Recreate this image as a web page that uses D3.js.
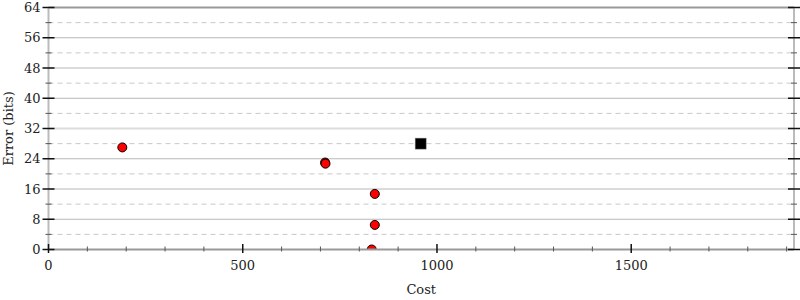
<!DOCTYPE html>
<html>
<head>
<meta charset="utf-8">
<script src="https://cdn.jsdelivr.net/npm/d3@7"></script>
<style>
  body { margin: 0; background: #fff; }
  svg { display: block; font-family: "DejaVu Serif", serif; }
  text { fill: #222; }
</style>
</head>
<body>
<svg class="chart" width="800" height="300"></svg>
<script>
// Candidate programs (cost vs error)
const costs = [190, 712, 713, 840, 840, 832];
const errors = [27.0, 23.0, 22.7, 14.7, 6.5, 0];
// Initial program
const startCost = [958];
const startError = [28.0];

const xMajor = [0, 500, 1000, 1500];
const yMajor = [0, 8, 16, 24, 32, 40, 48, 56, 64];

const width = 800;
const height = 300;
const margin = { top: 7.5, right: 6, bottom: 50.5, left: 48.5 };

const svg = d3.select(".chart");

const x = d3.scaleLinear().domain([0, 1919]).range([margin.left, width - margin.right]);
const y = d3.scaleLinear().domain([0, 64]).range([height - margin.bottom, margin.top]);

const x0 = x.range()[0], x1 = x.range()[1];
const y0 = y.range()[0], y1 = y.range()[1];

const yMinor = d3.range(4, 64, 8);
const xMinor = d3.range(0, 1901, 100).filter((v) => !xMajor.includes(v));

// Dashed grid at minor y ticks
svg.append("g")
  .selectAll("line")
  .data(yMinor)
  .join("line")
  .attr("x1", x0).attr("x2", x1)
  .attr("y1", (d) => y(d)).attr("y2", (d) => y(d))
  .attr("stroke", "#c8c8c8")
  .attr("stroke-dasharray", "5,4");

// Solid grid at major y ticks
svg.append("g")
  .selectAll("line")
  .data(yMajor.filter((v) => v > 0 && v < 64))
  .join("line")
  .attr("x1", x0).attr("x2", x1)
  .attr("y1", (d) => y(d)).attr("y2", (d) => y(d))
  .attr("stroke", (d) => (d === 32 ? "#dcdcdc" : "#b8b8b8"))
  .attr("stroke-width", (d) => (d === 32 ? 2 : 1));

// Frame
svg.append("line")
  .attr("x1", x0).attr("x2", x1).attr("y1", y1).attr("y2", y1)
  .attr("stroke", "#999").attr("stroke-width", 2);
svg.append("line")
  .attr("x1", x0).attr("x2", x0).attr("y1", y0).attr("y2", y1)
  .attr("stroke", "#bbb").attr("stroke-width", 2);
svg.append("line")
  .attr("x1", x1).attr("x2", x1).attr("y1", y0).attr("y2", y1)
  .attr("stroke", "#bbb").attr("stroke-width", 2);

// Points
svg.append("defs").append("clipPath").attr("id", "plot")
  .append("rect")
  .attr("x", x0).attr("y", y1 - 6)
  .attr("width", x1 - x0).attr("height", y0 - y1 + 6);

const pts = svg.append("g").attr("clip-path", "url(#plot)");

pts.selectAll("circle")
  .data(costs.map((c, i) => [c, errors[i]]))
  .join("circle")
  .attr("cx", (d) => x(d[0]))
  .attr("cy", (d) => y(d[1]))
  .attr("r", 4.5)
  .attr("fill", "#f00")
  .attr("stroke", "#000")
  .attr("stroke-width", 1);

pts.selectAll("rect")
  .data(startCost.map((c, i) => [c, startError[i]]))
  .join("rect")
  .attr("x", (d) => x(d[0]) - 5.5)
  .attr("y", (d) => y(d[1]) - 5.5)
  .attr("width", 11).attr("height", 11)
  .attr("fill", "#000")
  .attr("stroke", "#888")
  .attr("stroke-width", 0.5);

// Bottom axis line
svg.append("line")
  .attr("x1", x0).attr("x2", x1).attr("y1", y0).attr("y2", y0)
  .attr("stroke", "#999").attr("stroke-width", 2);

// Y ticks (left + right)
for (const side of [x0, x1]) {
  svg.append("g")
    .selectAll("line")
    .data(yMajor)
    .join("line")
    .attr("x1", side - 6).attr("x2", side + 6)
    .attr("y1", (d) => y(d)).attr("y2", (d) => y(d))
    .attr("stroke", "#111").attr("stroke-width", 1.5);
  svg.append("g")
    .selectAll("line")
    .data(yMinor)
    .join("line")
    .attr("x1", side - 3).attr("x2", side + 3)
    .attr("y1", (d) => y(d)).attr("y2", (d) => y(d))
    .attr("stroke", "#555").attr("stroke-width", 1);
}

// X ticks
svg.append("g")
  .selectAll("line")
  .data(xMajor)
  .join("line")
  .attr("x1", (d) => x(d)).attr("x2", (d) => x(d))
  .attr("y1", y0 - 5.5).attr("y2", y0 + 3.5)
  .attr("stroke", "#111").attr("stroke-width", 1.5);
svg.append("g")
  .selectAll("line")
  .data(xMinor)
  .join("line")
  .attr("x1", (d) => x(d)).attr("x2", (d) => x(d))
  .attr("y1", y0 - 3).attr("y2", y0 + 2)
  .attr("stroke", "#555").attr("stroke-width", 1);

// Tick labels
svg.append("g")
  .selectAll("text")
  .data(yMajor)
  .join("text")
  .attr("x", x0 - 8)
  .attr("y", (d) => y(d))
  .attr("dy", "0.35em")
  .attr("text-anchor", "end")
  .attr("font-size", 13)
  .text((d) => d);

svg.append("g")
  .selectAll("text")
  .data(xMajor)
  .join("text")
  .attr("x", (d) => x(d))
  .attr("y", y0 + 20)
  .attr("text-anchor", "middle")
  .attr("font-size", 13)
  .text((d) => d);

// Axis titles
svg.append("text")
  .attr("x", (x0 + x1) / 2)
  .attr("y", 294)
  .attr("text-anchor", "middle")
  .attr("font-size", 13)
  .text("Cost");

svg.append("text")
  .attr("transform", `translate(13,${(y0 + y1) / 2}) rotate(-90)`)
  .attr("text-anchor", "middle")
  .attr("font-size", 13)
  .text("Error (bits)");
</script>
</body>
</html>
